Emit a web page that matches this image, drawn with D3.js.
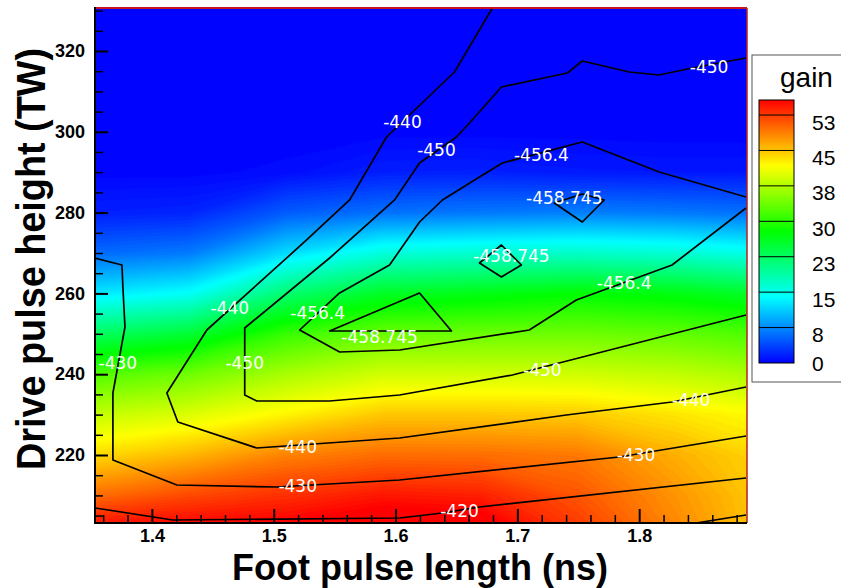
<!DOCTYPE html>
<html>
<head>
<meta charset="utf-8">
<script src="https://cdn.jsdelivr.net/npm/d3@7"></script>
<style>
  body { margin: 0; background: #fff; }
  svg { display: block; }
</style>
</head>
<body>
<script>
const footLength = [1.35, 1.43, 1.51, 1.59, 1.67, 1.75, 1.83, 1.91];
const driveHeight = [200, 210, 220, 230, 240, 250, 260, 270, 280, 290, 300, 310, 320, 330];
// one column per foot length, values from 200 TW up to 330 TW
const gainCols = [
  [57.0, 50.1, 44.1, 38.8, 32.5, 22.7, 12.8, 5.8, 1.6, 0.2, 0, 0, 0, 0],
  [57.5, 52.2, 46.1, 40.2, 34.2, 25.1, 14.4, 6.7, 1.9, 0.2, 0, 0, 0, 0],
  [57.5, 53.6, 49.0, 42.7, 37.4, 31.0, 21.9, 12.1, 5.0, 0.6, 0, 0, 0, 0],
  [59.0, 55.0, 50.2, 45.2, 39.6, 33.9, 26.0, 15.9, 6.2, 1.6, 0.2, 0, 0, 0],
  [58.5, 54.5, 50.1, 45.2, 39.6, 34.0, 26.9, 16.6, 6.6, 1.7, 0.2, 0, 0, 0],
  [53.5, 51.5, 49.5, 45.0, 39.5, 34.1, 28.0, 17.0, 7.0, 1.3, 0.2, 0, 0, 0],
  [49.0, 48.0, 46.5, 43.5, 38.7, 33.4, 27.1, 16.4, 6.6, 1.2, 0.1, 0, 0, 0],
  [44.5, 44.5, 44.0, 42.0, 37.2, 32.0, 25.3, 14.8, 6.1, 1.2, 0.1, 0, 0, 0]
];
const gainMax = 56.2;
const legendLevels = [0, 7.57, 15.14, 22.71, 30.28, 37.85, 45.42, 52.99];

// black contour lines: [foot length, drive height]
const line410 = [[1.8467, 203.17], [1.8877, 205.15]];
const line420 = [[1.3533, 206.88], [1.4172, 203.91], [1.6033, 204.41], [1.6385, 205.64],
  [1.6689, 207.13], [1.8877, 214.31]];
const line430 = [[1.3533, 268.76], [1.3754, 267.03], [1.3762, 261.58], [1.3779, 251.68],
  [1.3680, 235.35], [1.3680, 218.76], [1.4205, 212.57], [1.5025, 212.08], [1.6033, 213.81],
  [1.7836, 219.50], [1.8877, 224.70]];
const line440 = [[1.6795, 330.64], [1.6484, 314.80], [1.5926, 298.71], [1.5623, 283.12],
  [1.5270, 273.22], [1.4451, 250.94], [1.4123, 235.35], [1.4213, 228.17], [1.4861, 221.73],
  [1.6033, 224.21], [1.7402, 229.90], [1.8270, 233.12], [1.8877, 236.83]];
const line450 = [[1.8877, 318.27], [1.8434, 315.79], [1.8164, 314.06], [1.7918, 314.80],
  [1.7533, 317.52], [1.7410, 314.55], [1.6869, 311.09], [1.6607, 302.18], [1.6500, 298.71],
  [1.6197, 292.28], [1.5992, 283.12], [1.5459, 268.76], [1.4762, 251.44], [1.4762, 234.85],
  [1.4861, 233.37], [1.5459, 233.37], [1.6033, 234.85], [1.6959, 239.80], [1.8877, 254.65]];
const line456 = [[1.8877, 283.86], [1.8164, 290.05], [1.7533, 297.48], [1.6877, 292.28],
  [1.6689, 288.81], [1.6385, 283.12], [1.6197, 277.67], [1.5951, 267.03], [1.5541, 260.10],
  [1.5213, 250.94], [1.5541, 245.50], [1.6033, 245.99], [1.7098, 250.94], [1.7484, 258.37],
  [1.8270, 267.03], [1.8877, 281.14]];
const loop458a = [[1.5459, 250.69], [1.6197, 260.10], [1.6459, 250.69]];
const loop458b = [[1.6689, 267.52], [1.6869, 271.98], [1.7033, 267.03], [1.6869, 264.06]];
const loop458c = [[1.7303, 282.38], [1.7533, 284.60], [1.7713, 283.12], [1.7533, 277.67]];

// where each level is labelled
const labels420 = [[1.6525, 206.1]];
const labels430 = [[1.3721, 242.77], [1.5197, 212.33], [1.7975, 220.0]];
const labels440 = [[1.6057, 302.43], [1.4639, 256.39], [1.5197, 221.98], [1.8426, 233.61]];
const labels450 = [[1.6336, 295.50], [1.8574, 316.04], [1.4762, 242.77], [1.7205, 241.04]];
const labels456 = [[1.7197, 294.26], [1.5361, 255.15], [1.7877, 262.57]];
const labels458 = [[1.5869, 249.21], [1.6951, 269.26], [1.7385, 283.61]];

const openLines = [
  { level: -410, pts: line410 }, { level: -420, pts: line420 }, { level: -430, pts: line430 },
  { level: -440, pts: line440 }, { level: -450, pts: line450 }, { level: -456.4, pts: line456 }
];
const closedLines = [loop458a, loop458b, loop458c];
const levelLabels = [
  { level: -420, at: labels420 }, { level: -430, at: labels430 }, { level: -440, at: labels440 },
  { level: -450, at: labels450 }, { level: -456.4, at: labels456 }, { level: -458.745, at: labels458 }
];

const width = 841, height = 588;
const plot = { left: 95, right: 747, top: 8, bottom: 523 };

const x = d3.scaleLinear().domain([1.3533, 1.8885]).range([plot.left, plot.right]);
const y = d3.scaleLinear().domain([203.17, 330.64]).range([plot.bottom, plot.top]);
const color = d3.scaleLinear()
  .domain([0, 0.25, 0.5, 0.75, 1].map(t => t * gainMax))
  .range(["#0000ff", "#00ffff", "#00ff00", "#ffff00", "#ff0000"])
  .clamp(true);

const svg = d3.select("body").append("svg").attr("width", width).attr("height", height);

svg.append("clipPath").attr("id", "plotclip")
  .append("rect")
  .attr("x", plot.left).attr("y", plot.top)
  .attr("width", plot.right - plot.left).attr("height", plot.bottom - plot.top);

const g = svg.append("g").attr("clip-path", "url(#plotclip)");

// flooded gain field
const nx = footLength.length, ny = driveHeight.length;
const values = [];
driveHeight.forEach((h, j) => footLength.forEach((f, i) => values.push(gainCols[i][j])));
const stepX = footLength[1] - footLength[0];
const stepY = driveHeight[1] - driveHeight[0];
const gridToPlot = d3.geoTransform({
  point: function (gx, gy) {
    this.stream.point(x(footLength[0] + (gx - 0.5) * stepX), y(driveHeight[0] + (gy - 0.5) * stepY));
  }
});
const fillStep = 0.4;
const bands = d3.contours().size([nx, ny]).thresholds(d3.range(-2, 62, fillStep))(values);
g.append("g").selectAll("path")
  .data(bands)
  .join("path")
  .attr("d", d3.geoPath(gridToPlot))
  .attr("fill", d => color(d.value + fillStep / 2))
  .attr("stroke", d => color(d.value + fillStep / 2))
  .attr("stroke-width", 0.3);

// contour lines
const line = d3.line().x(d => x(d[0])).y(d => y(d[1]));
const loop = d3.line().x(d => x(d[0])).y(d => y(d[1])).curve(d3.curveLinearClosed);
const lineStyle = sel => sel.attr("fill", "none").attr("stroke", "#000")
  .attr("stroke-width", 1.7).attr("stroke-linejoin", "round");

g.append("g").selectAll("path").data(openLines).join("path")
  .attr("d", d => line(d.pts)).call(lineStyle);
g.append("g").selectAll("path").data(closedLines).join("path")
  .attr("d", d => loop(d)).call(lineStyle);

// contour labels
const labelData = levelLabels.flatMap(l => l.at.map(p => ({ level: l.level, p })));
g.append("g").selectAll("text").data(labelData).join("text")
  .attr("x", d => x(d.p[0]))
  .attr("y", d => y(d.p[1]))
  .attr("dy", "0.36em")
  .attr("text-anchor", "middle")
  .attr("fill", "#fff")
  .style("font-family", "'DejaVu Sans', Verdana, sans-serif")
  .style("font-size", "17px")
  .text(d => String(d.level));

// axes
const xMajor = [1.4, 1.5, 1.6, 1.7, 1.8];
const xMinor = d3.range(1.36, 1.885, 0.02).filter(v => !xMajor.some(m => Math.abs(m - v) < 1e-6));
const yMajor = [220, 240, 260, 280, 300, 320];
const yMinor = d3.range(205, 331, 5).filter(v => v % 20 !== 0);

const tickFont = sel => sel.selectAll("text")
  .style("font-family", "'Liberation Sans', Arial, sans-serif")
  .style("font-size", "18px").style("font-weight", "bold").attr("fill", "#000");

svg.append("g").attr("transform", `translate(0,${plot.bottom})`)
  .call(d3.axisBottom(x).tickValues(xMinor).tickSize(-8).tickFormat(""))
  .call(a => a.select(".domain").remove())
  .call(a => a.selectAll("line").attr("stroke-width", 1.5));
svg.append("g").attr("transform", `translate(0,${plot.bottom})`)
  .call(d3.axisBottom(x).tickValues(xMajor).tickSize(-14).tickPadding(6).tickFormat(d3.format(".1f")))
  .call(a => a.select(".domain").remove())
  .call(a => a.selectAll("line").attr("stroke-width", 2))
  .call(tickFont);

svg.append("g").attr("transform", `translate(${plot.left},0)`)
  .call(d3.axisLeft(y).tickValues(yMinor).tickSize(-8).tickFormat(""))
  .call(a => a.select(".domain").remove())
  .call(a => a.selectAll("line").attr("stroke-width", 1.5));
svg.append("g").attr("transform", `translate(${plot.left},0)`)
  .call(d3.axisLeft(y).tickValues(yMajor).tickSize(-13).tickPadding(10).tickFormat(d3.format("d")))
  .call(a => a.select(".domain").remove())
  .call(a => a.selectAll("line").attr("stroke-width", 2))
  .call(tickFont);

// frame
svg.append("line").attr("x1", plot.left).attr("x2", plot.right).attr("y1", plot.top).attr("y2", plot.top)
  .attr("stroke", "#c8141e").attr("stroke-width", 2);
svg.append("line").attr("x1", plot.right).attr("x2", plot.right).attr("y1", plot.top).attr("y2", plot.bottom)
  .attr("stroke", "#b22222").attr("stroke-width", 1.5);
svg.append("line").attr("x1", plot.left).attr("x2", plot.left).attr("y1", plot.top - 1).attr("y2", plot.bottom + 1)
  .attr("stroke", "#000").attr("stroke-width", 2);
svg.append("line").attr("x1", plot.left - 1).attr("x2", plot.right).attr("y1", plot.bottom).attr("y2", plot.bottom)
  .attr("stroke", "#000").attr("stroke-width", 2);

// axis titles
const titleFont = (sel, size) => sel
  .style("font-family", "'Liberation Sans', Arial, sans-serif")
  .style("font-size", size + "px").style("font-weight", "bold")
  .attr("text-anchor", "middle").attr("lengthAdjust", "spacingAndGlyphs");

svg.append("text").attr("x", 420).attr("y", 580)
  .attr("textLength", 376).call(titleFont, 37)
  .text("Foot pulse length (ns)");
svg.append("text").attr("transform", "translate(45,259) rotate(-90)")
  .attr("textLength", 422).call(titleFont, 40)
  .text("Drive pulse height (TW)");

// legend
const leg = svg.append("g");
leg.append("rect").attr("x", 752).attr("y", 55).attr("width", 120).attr("height", 327)
  .attr("fill", "#fff").attr("stroke", "#555").attr("stroke-width", 1);
leg.append("text").attr("x", 780).attr("y", 87)
  .style("font-family", "'Liberation Sans', Arial, sans-serif").style("font-size", "28px")
  .text("gain");

const legY = d3.scaleLinear().domain([0, gainMax]).range([363, 100]);
const grad = svg.append("defs").append("linearGradient").attr("id", "gainramp")
  .attr("x1", 0).attr("x2", 0).attr("y1", 1).attr("y2", 0);
grad.selectAll("stop").data(color.domain()).join("stop")
  .attr("offset", d => d / gainMax)
  .attr("stop-color", d => color(d));

leg.append("rect").attr("x", 759).attr("y", legY(gainMax)).attr("width", 35)
  .attr("height", legY(0) - legY(gainMax)).attr("fill", "url(#gainramp)");
leg.selectAll("line.level").data(legendLevels.slice(1)).join("line")
  .attr("class", "level")
  .attr("x1", 759).attr("x2", 794)
  .attr("y1", d => legY(d)).attr("y2", d => legY(d))
  .attr("stroke", "#000").attr("stroke-width", 1);
leg.append("rect").attr("x", 759).attr("y", legY(gainMax)).attr("width", 35)
  .attr("height", legY(0) - legY(gainMax)).attr("fill", "none")
  .attr("stroke", "#000").attr("stroke-width", 1);
leg.selectAll("text.lab").data(legendLevels).join("text")
  .attr("class", "lab")
  .attr("x", 812)
  .attr("y", d => Math.min(legY(d) + 7, legY(0)))
  .attr("dy", "0.36em")
  .style("font-family", "'Liberation Sans', Arial, sans-serif").style("font-size", "21px")
  .text(d => d3.format(".0f")(d));
</script>
</body>
</html>
